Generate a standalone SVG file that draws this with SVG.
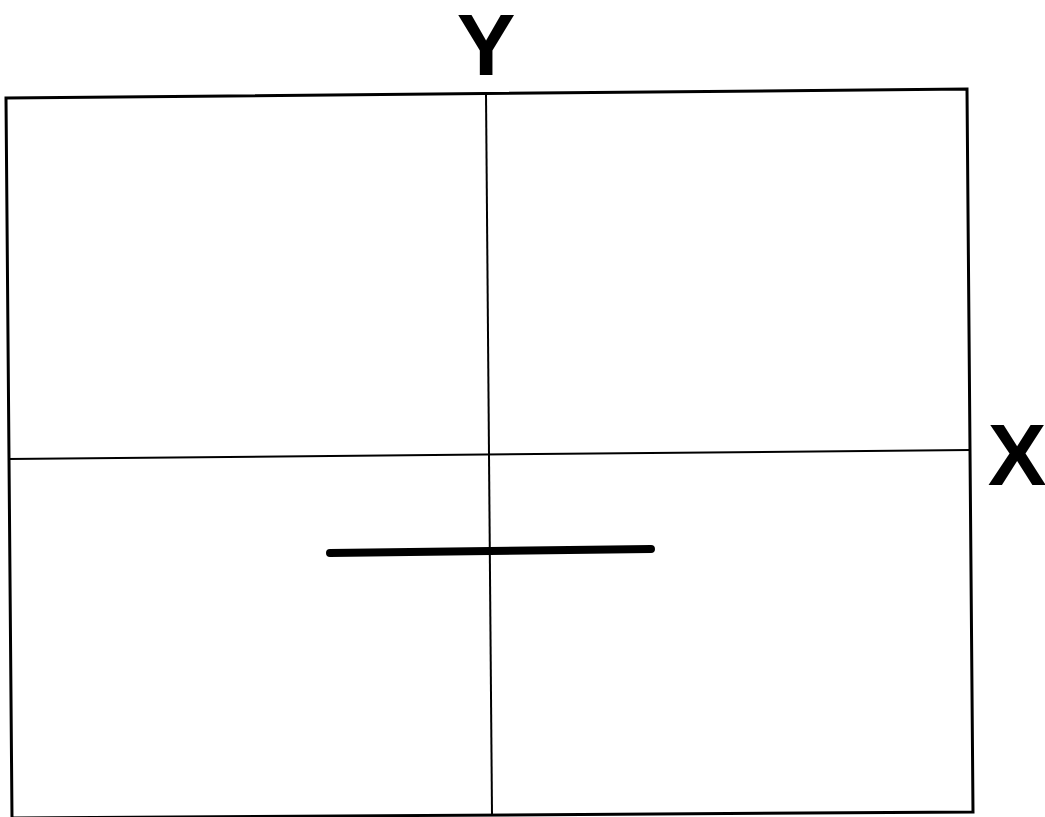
<svg xmlns="http://www.w3.org/2000/svg" width="1045" height="817" viewBox="0 0 1045 817">
<style>
.lbl{font-family:"Liberation Sans",Arial,sans-serif;font-weight:bold;font-size:88px;fill:#000;text-anchor:middle}
.axis{stroke:#000;stroke-width:2;fill:none}
</style>
<rect width="1045" height="817" fill="#fff"/>
<g id="frame">
<polygon points="6,98 967,89 973,812 12,818" fill="none" stroke="#000" stroke-width="3"/>
</g>
<g id="axes">
<line class="axis" x1="486" y1="94" x2="492" y2="815"/>
<line class="axis" x1="8" y1="459" x2="970" y2="450"/>
</g>
<g id="segment">
<line x1="330" y1="553" x2="651" y2="549" stroke="#000" stroke-width="8" stroke-linecap="round"/>
</g>
<g id="label-y"><text class="lbl" x="486" y="75">Y</text></g>
<g id="label-x"><text class="lbl" x="1017" y="485">X</text></g>
</svg>
